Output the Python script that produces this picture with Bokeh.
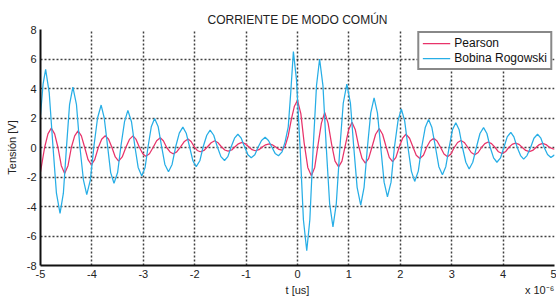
from bokeh.plotting import figure
from bokeh.models import Range1d, FixedTicker, Legend, LegendItem, LinearAxis
from bokeh.embed import file_html
from bokeh.resources import INLINE

title_text = "CORRIENTE DE MODO COMÚN"
x_label = "t [us]"
y_label = "Tensión [V]"
x_ticks = [-5, -4, -3, -2, -1, 0, 1, 2, 3, 4, 5]
y_ticks = [-8, -6, -4, -2, 0, 2, 4, 6, 8]
series_names = ["Pearson", "Bobina Rogowski"]
scale_text = "x 10\u207b\u2076"

t_pearson = [
    -5.00, -4.92, -4.855, -4.79,
    -4.725, -4.66, -4.595, -4.53,
    -4.465, -4.40, -4.335, -4.27,
    -4.205, -4.14, -4.075, -4.01,
    -3.945, -3.875, -3.81, -3.74,
    -3.675, -3.61, -3.545, -3.48,
    -3.41, -3.34, -3.27, -3.20,
    -3.14, -3.075, -3.01, -2.95,
    -2.88, -2.81, -2.74, -2.67,
    -2.61, -2.545, -2.48, -2.42,
    -2.35, -2.275, -2.20, -2.13,
    -2.07, -2.01, -1.95, -1.89,
    -1.82, -1.75, -1.68, -1.61,
    -1.545, -1.48, -1.415, -1.35,
    -1.28, -1.215, -1.15, -1.08,
    -1.015, -0.95, -0.885, -0.82,
    -0.75, -0.685, -0.62, -0.55,
    -0.49, -0.425, -0.36, -0.30,
    -0.24, -0.18, -0.12, -0.06, 0.00,
    0.065, 0.13, 0.20, 0.27,
    0.335, 0.40, 0.465, 0.53,
    0.595, 0.665, 0.73, 0.80,
    0.865, 0.93, 0.995, 1.06,
    1.125, 1.19, 1.255, 1.32,
    1.385, 1.455, 1.52, 1.59,
    1.655, 1.72, 1.785, 1.85,
    1.915, 1.98, 2.045, 2.11,
    2.18, 2.245, 2.31, 2.38,
    2.45, 2.515, 2.58, 2.65,
    2.715, 2.785, 2.85, 2.92,
    2.985, 3.05, 3.115, 3.18,
    3.245, 3.315, 3.38, 3.45,
    3.515, 3.58, 3.645, 3.71,
    3.775, 3.845, 3.91, 3.98,
    4.045, 4.11, 4.175, 4.24,
    4.31, 4.375, 4.44, 4.51,
    4.575, 4.64, 4.705, 4.77,
    4.835, 4.90, 4.96, 5.00,
]
v_pearson = [
    -1.65, 0.00, 0.92, 1.31,
    0.92, 0.00, -1.23, -1.76,
    -1.23, 0.00, 0.79, 1.13,
    0.79, 0.00, -0.82, -1.17,
    -0.82, 0.00, 0.56, 0.80,
    0.56, 0.00, -0.64, -0.92,
    -0.64, 0.00, 0.55, 0.79,
    0.55, 0.00, -0.42, -0.60,
    -0.42, 0.00, 0.46, 0.66,
    0.46, 0.00, -0.30, -0.43,
    -0.30, 0.05, 0.41, 0.58,
    0.41, 0.05, -0.20, -0.29,
    -0.20, 0.05, 0.32, 0.46,
    0.32, 0.05, -0.17, -0.24,
    -0.17, 0.05, 0.25, 0.35,
    0.25, 0.05, -0.15, -0.22,
    -0.15, 0.03, 0.18, 0.25,
    0.18, 0.03, -0.13, -0.18,
    0.10, 0.80, 1.90, 2.80, 3.20,
    2.30, 0.30, -1.35, -1.92,
    -1.35, 0.20, 1.65, 2.37,
    1.65, 0.20, -0.92, -1.31,
    -0.92, 0.15, 1.20, 1.72,
    1.20, 0.10, -0.74, -1.06,
    -0.74, 0.10, 0.90, 1.28,
    0.90, 0.10, -0.67, -0.96,
    -0.67, 0.05, 0.63, 0.90,
    0.63, 0.05, -0.53, -0.75,
    -0.53, 0.03, 0.44, 0.63,
    0.44, 0.00, -0.44, -0.63,
    -0.44, 0.00, 0.34, 0.48,
    0.34, 0.00, -0.34, -0.49,
    -0.34, 0.00, 0.26, 0.37,
    0.26, 0.00, -0.29, -0.41,
    -0.29, 0.00, 0.21, 0.30,
    0.21, 0.00, -0.20, -0.28,
    -0.20, 0.00, 0.20, 0.28,
    0.20, 0.02, -0.08, -0.12,
]

t_rogowski = [
    -5.00, -4.95, -4.90,
    -4.83, -4.76, -4.69, -4.62,
    -4.555, -4.495, -4.435, -4.37,
    -4.30, -4.235, -4.165, -4.10,
    -4.03, -3.96, -3.89, -3.82,
    -3.76, -3.695, -3.635, -3.57,
    -3.50, -3.435, -3.365, -3.30,
    -3.23, -3.165, -3.10, -3.03,
    -2.965, -2.905, -2.845, -2.78,
    -2.71, -2.645, -2.58, -2.51,
    -2.44, -2.37, -2.30, -2.23,
    -2.165, -2.10, -2.035, -1.97,
    -1.90, -1.835, -1.765, -1.70,
    -1.63, -1.56, -1.49, -1.42,
    -1.355, -1.29, -1.225, -1.16,
    -1.095, -1.03, -0.965, -0.90,
    -0.83, -0.765, -0.70, -0.63,
    -0.565, -0.50, -0.435, -0.37,
    -0.30, -0.24, -0.18, -0.13, -0.08,
    -0.02, 0.05, 0.115, 0.18,
    0.24, 0.305, 0.37, 0.43,
    0.495, 0.56, 0.625, 0.69,
    0.755, 0.825, 0.89, 0.96,
    1.03, 1.095, 1.16, 1.23,
    1.295, 1.36, 1.425, 1.49,
    1.555, 1.62, 1.685, 1.75,
    1.82, 1.885, 1.955, 2.02,
    2.085, 2.15, 2.215, 2.28,
    2.35, 2.415, 2.485, 2.55,
    2.615, 2.685, 2.75, 2.82,
    2.885, 2.95, 3.015, 3.08,
    3.145, 3.21, 3.275, 3.34,
    3.41, 3.48, 3.55, 3.62,
    3.685, 3.75, 3.815, 3.88,
    3.95, 4.015, 4.08, 4.15,
    4.21, 4.275, 4.34, 4.40,
    4.465, 4.535, 4.60, 4.67,
    4.735, 4.80, 4.865, 4.93,
    5.00,
]
v_rogowski = [
    2.20, 4.30, 5.30,
    3.70, 0.20, -3.10, -4.47,
    -3.10, 0.00, 2.90, 4.10,
    2.90, 0.10, -2.20, -3.20,
    -2.20, 0.10, 2.00, 2.88,
    2.00, 0.10, -1.70, -2.42,
    -1.70, 0.10, 1.75, 2.52,
    1.75, 0.10, -1.35, -1.93,
    -1.35, 0.10, 1.40, 1.97,
    1.40, 0.10, -1.15, -1.64,
    -1.15, 0.05, 0.97, 1.38,
    0.97, 0.05, -0.90, -1.30,
    -0.90, 0.05, 0.83, 1.18,
    0.83, 0.05, -0.62, -0.88,
    -0.62, 0.05, 0.63, 0.90,
    0.63, 0.05, -0.49, -0.70,
    -0.49, 0.03, 0.48, 0.69,
    0.48, 0.03, -0.40, -0.56,
    -0.30, 0.40, 1.40, 3.80, 6.50,
    4.60, 0.00, -4.90, -7.00,
    -4.90, 0.00, 4.20, 6.00,
    4.20, 0.00, -3.80, -5.38,
    -3.80, 0.00, 3.00, 4.30,
    3.00, 0.00, -2.70, -3.90,
    -2.70, 0.00, 2.35, 3.37,
    2.35, 0.00, -2.35, -3.34,
    -2.35, 0.00, 1.80, 2.61,
    1.80, 0.00, -1.60, -2.30,
    -1.60, 0.00, 1.35, 1.90,
    1.35, 0.00, -1.30, -1.84,
    -1.30, 0.00, 1.20, 1.68,
    1.20, 0.00, -1.00, -1.46,
    -1.00, 0.00, 0.95, 1.35,
    0.95, 0.00, -0.70, -1.00,
    -0.70, 0.00, 0.72, 1.03,
    0.72, 0.00, -0.55, -0.79,
    -0.55, 0.00, 0.63, 0.90,
    0.63, 0.00, -0.48, -0.68,
    -0.50,
]

assert len(t_pearson) == len(v_pearson)
assert len(t_rogowski) == len(v_rogowski)

FONT = "Liberation Sans"
RED = "#e8336a"
BLUE = "#27aee6"
TXT = "#222222"

p = figure(width=556, height=298, output_backend="svg", toolbar_location=None,
           x_range=Range1d(-5, 5), y_range=Range1d(-8, 8),
           min_border_left=40, min_border_right=2, min_border_top=29, min_border_bottom=33,
           title=title_text)
p.outline_line_color = None
p.background_fill_color = "white"
p.border_fill_color = "white"

p.title.align = "center"
p.title.text_font = FONT
p.title.text_font_size = "12px"
p.title.text_font_style = "normal"
p.title.text_color = TXT
p.title.standoff = 5

for ax in (p.xaxis[0], p.yaxis[0]):
    ax.axis_line_color = "#111111"
    ax.axis_line_width = 2
    ax.major_tick_in = 0
    ax.major_tick_out = 0
    ax.minor_tick_in = 0
    ax.minor_tick_out = 0
    ax.major_label_text_font = FONT
    ax.major_label_text_font_size = "11px"
    ax.major_label_text_color = TXT
    ax.axis_label_text_font = FONT
    ax.axis_label_text_font_size = "11px"
    ax.axis_label_text_font_style = "normal"
    ax.axis_label_text_color = TXT
    ax.major_label_standoff = 4

p.xaxis.ticker = FixedTicker(ticks=x_ticks)
p.yaxis.ticker = FixedTicker(ticks=y_ticks)
p.xaxis.major_label_overrides = {t: str(t) for t in x_ticks}
p.yaxis.major_label_overrides = {t: str(t) for t in y_ticks}
p.yaxis.axis_label = y_label
p.yaxis.axis_label_standoff = 6

# second row under the tick labels: axis title (centred) and the scale factor (right)
label_row = LinearAxis(ticker=FixedTicker(ticks=[0, 4.71]),
                       major_label_overrides={0: x_label, 4.71: scale_text})
label_row.axis_line_color = None
label_row.major_tick_in = 0
label_row.major_tick_out = 0
label_row.minor_tick_in = 0
label_row.minor_tick_out = 0
label_row.major_label_standoff = 3
label_row.major_label_text_font = FONT
label_row.major_label_text_font_size = "11px"
label_row.major_label_text_color = TXT
p.add_layout(label_row, "below")

p.xgrid.ticker = FixedTicker(ticks=x_ticks)
for g in (p.xgrid[0], p.ygrid[0]):
    g.grid_line_color = "#404040"
    g.grid_line_width = 1.5
    g.grid_line_dash = "2 2"

r1 = p.line(t_pearson, v_pearson, line_color=RED, line_width=1.25)
r2 = p.line(t_rogowski, v_rogowski, line_color=BLUE, line_width=1.25)

legend = Legend(items=[LegendItem(label=series_names[0], renderers=[r1]),
                       LegendItem(label=series_names[1], renderers=[r2])],
                location="top_right")
legend.border_line_color = "#111111"
legend.border_line_width = 2
legend.background_fill_color = "white"
legend.background_fill_alpha = 1
legend.label_text_font = FONT
legend.label_text_font_size = "12px"
legend.label_text_color = "#111111"
legend.glyph_width = 28
legend.glyph_height = 12
legend.label_height = 12
legend.label_standoff = 4
legend.spacing = 1
legend.padding = 3
legend.margin = 2
p.add_layout(legend)

open("out.html", "w").write(file_html(p, INLINE))
